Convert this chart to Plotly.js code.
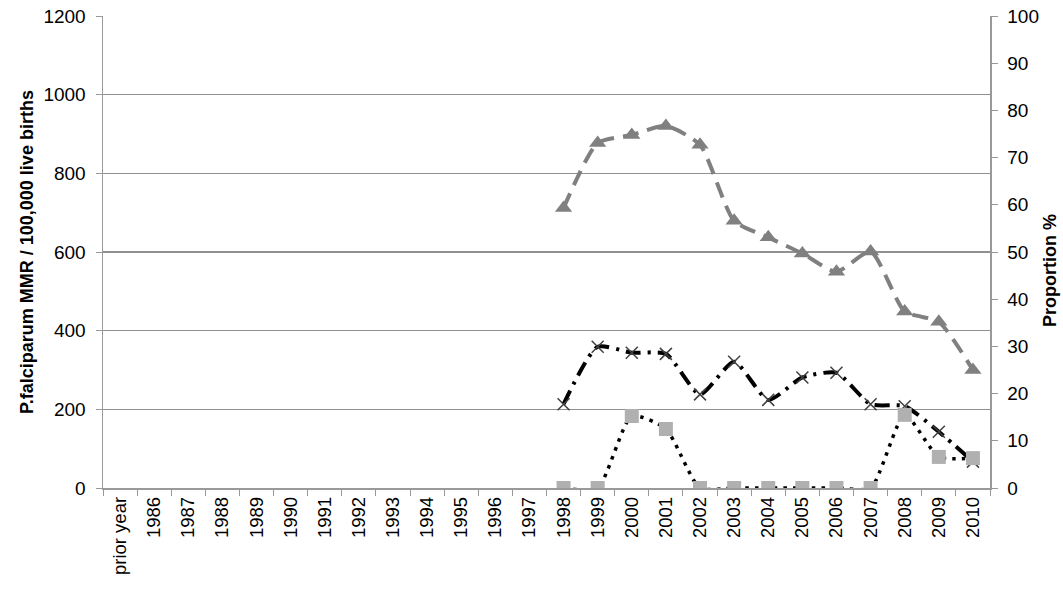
<!DOCTYPE html>
<html>
<head>
<meta charset="utf-8">
<script src="https://cdn.plot.ly/plotly-3.0.1.min.js"></script>
<style>
  html, body { margin: 0; padding: 0; background: #fff; }
  #chart { width: 1063px; height: 602px; }
</style>
</head>
<body>
<div id="chart"></div>
<script>
// categories along the x axis
const years = ['prior year', '1986', '1987', '1988', '1989', '1990', '1991', '1992', '1993',
  '1994', '1995', '1996', '1997', '1998', '1999', '2000', '2001', '2002', '2003', '2004',
  '2005', '2006', '2007', '2008', '2009', '2010'];

// series only have values from 1998 on
const seriesYears = ['1998', '1999', '2000', '2001', '2002', '2003', '2004', '2005', '2006',
  '2007', '2008', '2009', '2010'];
const proportionPct = [59.3, 73.1, 74.8, 76.7, 72.7, 56.6, 53.1, 49.7, 45.8, 50.1, 37.4, 35.2, 25.0];
const mmrAll = [213, 359, 344, 341, 238, 321, 224, 281, 293, 213, 208, 143, 67];
const mmrOther = [0, 0, 183, 150, 0, 0, 0, 0, 0, 0, 186, 79, 76];

const font = 'Liberation Sans, Arial, sans-serif';

const traces = [
  {
    x: seriesYears, y: proportionPct, yaxis: 'y2', type: 'scatter', mode: 'lines+markers',
    line: {color: '#808080', width: 4, dash: '16px,9px', shape: 'spline', smoothing: 0.6},
    marker: {symbol: 'triangle-up', size: 15, color: '#808080'},
    showlegend: false
  },
  {
    x: seriesYears, y: mmrAll, type: 'scatter', mode: 'lines+markers',
    line: {color: '#000', width: 4, dash: '15px,7px,3px,7px', shape: 'spline', smoothing: 0.6},
    marker: {symbol: 'x-thin-open', size: 12, color: '#404040', line: {width: 1.5, color: '#404040'}},
    showlegend: false
  },
  {
    x: seriesYears, y: mmrOther, type: 'scatter', mode: 'lines+markers',
    line: {color: '#000', width: 3.5, dash: '3.5px,6px', shape: 'spline', smoothing: 0.6},
    marker: {symbol: 'square', size: 14, color: '#b0b0b0'},
    showlegend: false
  }
];

const layout = {
  width: 1063, height: 602,
  margin: {l: 103, r: 73, t: 16, b: 114},
  paper_bgcolor: '#fff', plot_bgcolor: '#fff',
  font: {family: font, color: '#000'},
  xaxis: {
    type: 'category', categoryorder: 'array', categoryarray: years,
    range: [-0.5, years.length - 0.5],
    tickangle: -90, tickfont: {size: 18.5},
    ticks: 'outside', ticklen: 6, tickcolor: '#999', tickson: 'boundaries',
    showline: true, linecolor: '#999', linewidth: 1.5,
    showgrid: false, zeroline: false
  },
  yaxis: {
    range: [0, 1200], dtick: 200,
    tickfont: {size: 19},
    ticks: 'outside', ticklen: 6, tickcolor: '#999', ticklabelstandoff: 6,
    showline: true, linecolor: '#999', linewidth: 1.5,
    gridcolor: '#909090', gridwidth: 1.3, zeroline: false,
    title: {text: '<b>P.falciparum MMR / 100,000 live births</b>', font: {size: 18}, standoff: 5}
  },
  yaxis2: {
    overlaying: 'y', side: 'right',
    range: [0, 100], dtick: 10,
    tickfont: {size: 19},
    ticks: 'outside', ticklen: 6, tickcolor: '#999', ticklabelstandoff: 6,
    showline: true, linecolor: '#999', linewidth: 1.5,
    showgrid: false, zeroline: false
  },
  annotations: [{
    text: '<b>Proportion %</b>', textangle: -90, showarrow: false,
    xref: 'paper', yref: 'paper', x: 1.0812, y: 0.46,
    xanchor: 'right', yanchor: 'middle',
    font: {size: 18, family: font, color: '#000'}
  }]
};

Plotly.newPlot('chart', traces, layout, {displayModeBar: false, staticPlot: true});
</script>
</body>
</html>
